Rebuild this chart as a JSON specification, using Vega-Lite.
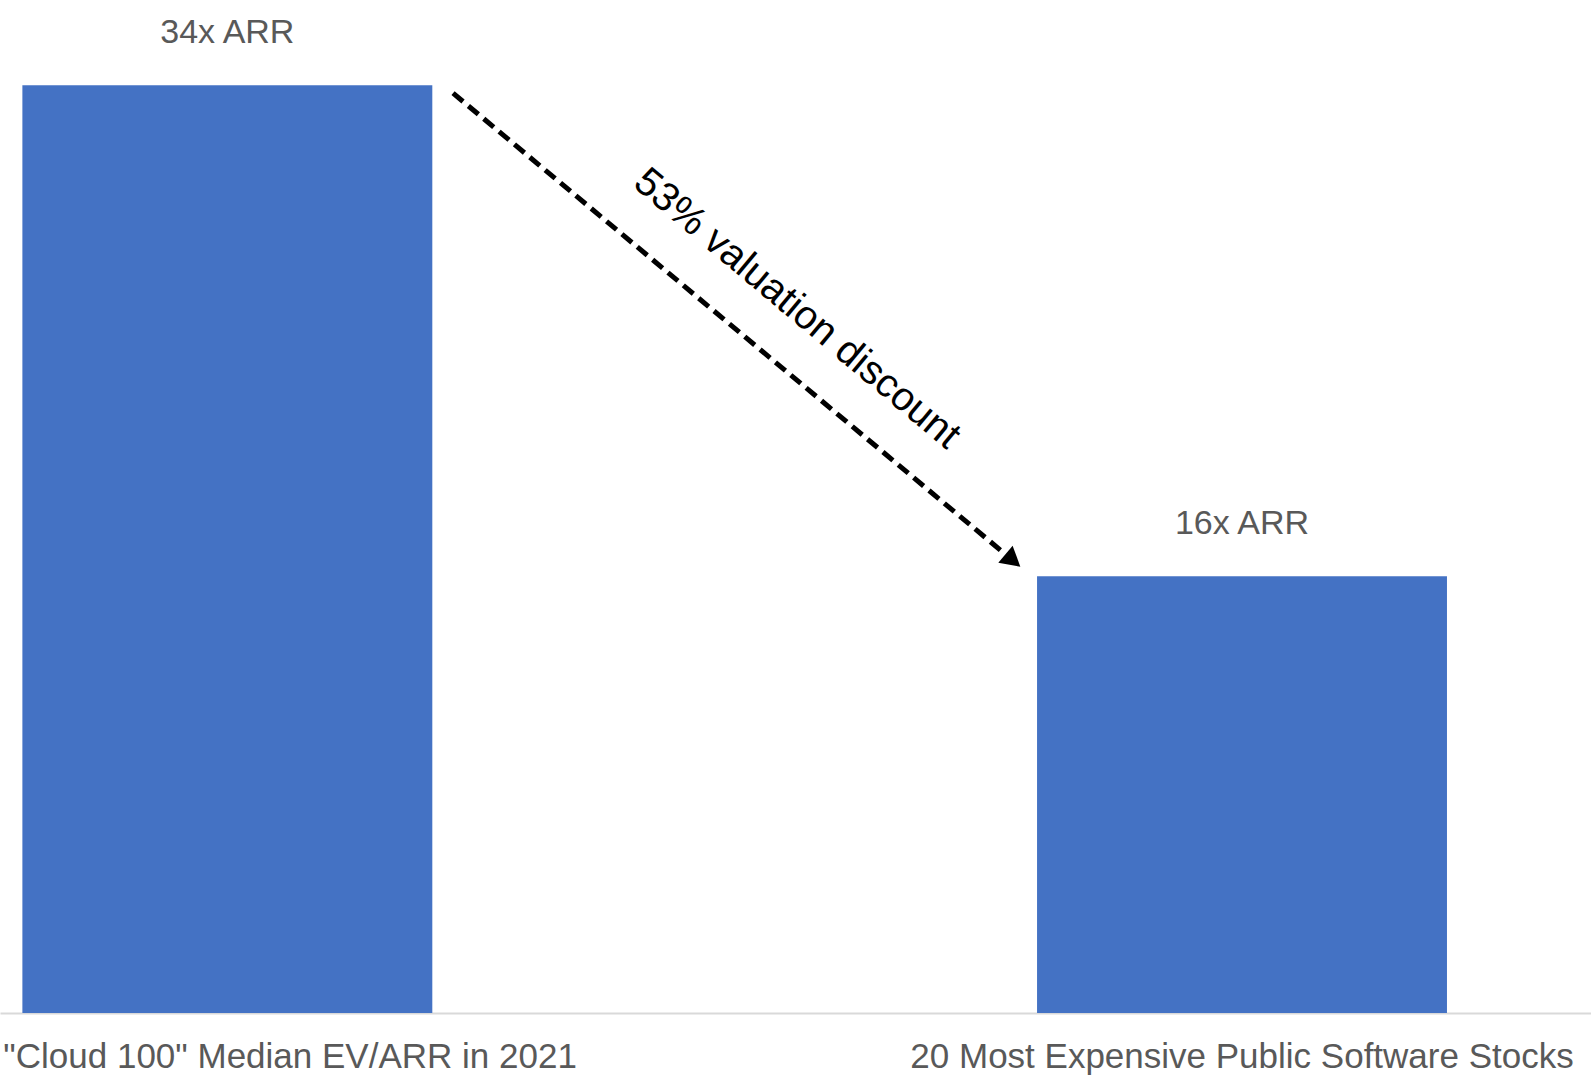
{
  "$schema": "https://vega.github.io/schema/vega-lite/v6.json",
  "width": 1591,
  "height": 1013,
  "autosize": {"type": "none"},
  "padding": {"left": 0, "right": 0, "top": 0, "bottom": 62},
  "background": "#ffffff",
  "config": {
    "view": {"stroke": null},
    "font": "Liberation Sans"
  },
  "datasets": {
    "bars": [
      {"category": "\"Cloud 100\" Median EV/ARR in 2021", "value": 34, "label": "34x ARR"},
      {"category": "20 Most Expensive Public Software Stocks", "value": 16, "label": "16x ARR"}
    ],
    "arrow": [
      {"from": "\"Cloud 100\" Median EV/ARR in 2021", "to": "20 Most Expensive Public Software Stocks", "fromValue": 34, "toValue": 16, "text": "53% valuation discount"}
    ]
  },
  "encoding": {
    "x": {
      "field": "category",
      "type": "nominal",
      "sort": null,
      "scale": {
        "domain": ["\"Cloud 100\" Median EV/ARR in 2021", "20 Most Expensive Public Software Stocks"],
        "paddingInner": 0.596,
        "paddingOuter": 0.082,
        "align": 0.1345
      },
      "axis": {
        "title": null,
        "ticks": false,
        "domainColor": "#D9D9D9",
        "domainWidth": 2,
        "labelFont": "Liberation Sans",
        "labelFontSize": 35,
        "labelColor": "#595959",
        "labelAngle": 0,
        "labelLimit": 0,
        "labelBaseline": "alphabetic",
        "labelPadding": 54,
        "labelAlign": {"condition": {"test": "datum.index === 0", "value": "left"}, "value": "center"},
        "labelOffset": {"condition": {"test": "datum.index === 0", "value": -224}, "value": 0}
      }
    }
  },
  "layer": [
    {
      "data": {"name": "bars"},
      "mark": {"type": "bar", "color": "#4472C4"},
      "encoding": {
        "y": {
          "field": "value",
          "type": "quantitative",
          "scale": {"domain": [0, 37.12], "nice": false, "zero": true},
          "axis": null
        }
      }
    },
    {
      "data": {"name": "bars"},
      "mark": {"type": "text", "baseline": "alphabetic", "align": "center", "yOffset": -42, "fontSize": 34, "color": "#595959", "font": "Liberation Sans"},
      "encoding": {
        "y": {"field": "value", "type": "quantitative"},
        "text": {"field": "label"}
      }
    },
    {
      "data": {"name": "arrow"},
      "mark": {"type": "rule", "color": "#000000", "strokeWidth": 5, "strokeDash": [13, 7], "xOffset": 225.7, "yOffset": 8, "x2Offset": -236.5, "y2Offset": -22},
      "encoding": {
        "x": {"field": "from", "type": "nominal"},
        "x2": {"field": "to"},
        "y": {"field": "fromValue", "type": "quantitative"},
        "y2": {"field": "toValue"}
      }
    },
    {
      "data": {"name": "arrow"},
      "mark": {"type": "point", "shape": "triangle", "filled": true, "color": "#000000", "opacity": 1, "size": 500, "angle": 129.9, "xOffset": -231.6, "yOffset": -18},
      "encoding": {
        "x": {"field": "to", "type": "nominal"},
        "y": {"field": "toValue", "type": "quantitative"}
      }
    },
    {
      "data": {"name": "arrow"},
      "mark": {"type": "text", "angle": 40, "align": "center", "baseline": "middle", "fontSize": 40, "color": "#000000", "font": "Liberation Sans", "xOffset": 569.7, "yOffset": 223.7},
      "encoding": {
        "x": {"field": "from", "type": "nominal"},
        "y": {"field": "fromValue", "type": "quantitative"},
        "text": {"field": "text"}
      }
    }
  ]
}
